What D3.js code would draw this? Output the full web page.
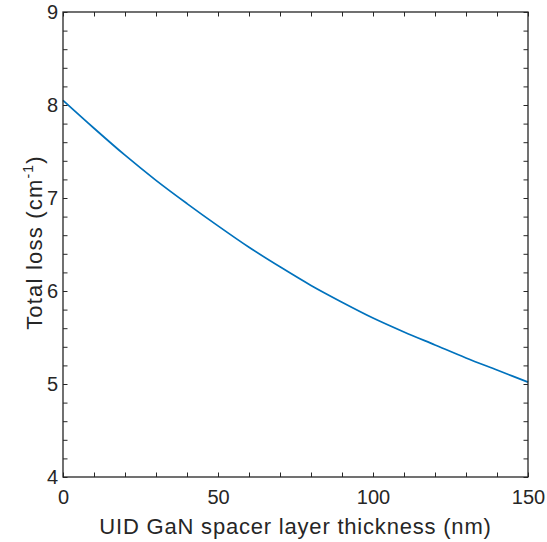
<!DOCTYPE html>
<html>
<head>
<meta charset="utf-8">
<script src="https://cdn.jsdelivr.net/npm/d3@7"></script>
<style>
  body { margin: 0; background: #fff; }
  text { font-family: Arial, "Liberation Sans", sans-serif; fill: #262626; }
</style>
</head>
<body>
<div id="plot"></div>
<script>
// spacer thickness (nm) and total loss (cm^-1)
const thickness = [0, 10, 20, 30, 40, 50, 60, 70, 80, 90, 100, 110, 120, 130, 140, 150];
const totalLoss = [8.05, 7.75, 7.46, 7.19, 6.94, 6.70, 6.47, 6.26, 6.06, 5.88, 5.71, 5.56, 5.42, 5.28, 5.15, 5.02];
const xTicks = [0, 50, 100, 150];
const yTicks = [4, 5, 6, 7, 8, 9];

const margin = { top: 12, right: 19, bottom: 65, left: 63 };
const width = 547 - margin.left - margin.right;
const height = 542 - margin.top - margin.bottom;

const svg = d3.select("#plot")
  .append("svg")
  .attr("width", 547)
  .attr("height", 542)
  .append("g")
  .attr("transform", `translate(${margin.left},${margin.top})`);

const xScale = d3.scaleLinear().domain([0, 150]).range([0, width]);
const yScale = d3.scaleLinear().domain([4, 9]).range([height, 0]);

const line = d3.line()
  .x((d, i) => xScale(thickness[i]))
  .y(d => yScale(d))
  .curve(d3.curveMonotoneX);

svg.append("path")
  .datum(totalLoss)
  .attr("fill", "none")
  .attr("stroke", "#0072BD")
  .attr("stroke-width", 1.7)
  .attr("d", line);

// inward ticks on all four sides, minor ticks included
const tickLen = 4.5;
const xMinor = d3.range(0, 151, 10);
const yMinor = d3.range(4, 9.001, 0.2);

const styleAxis = (g) => {
  g.select(".domain").remove();
  g.selectAll(".tick line").attr("stroke", "#262626").attr("stroke-width", 1);
  g.selectAll(".tick text").attr("font-size", 20).attr("fill", "#262626")
    .attr("font-family", "Arial, 'Liberation Sans', sans-serif");
};

svg.append("g")
  .attr("transform", `translate(0,${height})`)
  .call(d3.axisBottom(xScale).tickValues(xMinor).tickSize(-tickLen).tickFormat(""))
  .call(styleAxis);
svg.append("g")
  .call(d3.axisTop(xScale).tickValues(xMinor).tickSize(-tickLen).tickFormat(""))
  .call(styleAxis);
svg.append("g")
  .call(d3.axisLeft(yScale).tickValues(yMinor).tickSize(-tickLen).tickFormat(""))
  .call(styleAxis);
svg.append("g")
  .attr("transform", `translate(${width},0)`)
  .call(d3.axisRight(yScale).tickValues(yMinor).tickSize(-tickLen).tickFormat(""))
  .call(styleAxis);

// tick labels
svg.append("g")
  .attr("transform", `translate(0,${height})`)
  .call(d3.axisBottom(xScale).tickValues(xTicks).tickSize(0).tickPadding(13).tickFormat(d3.format("d")))
  .call(styleAxis);
svg.append("g")
  .call(d3.axisLeft(yScale).tickValues(yTicks).tickSize(0).tickPadding(5).tickFormat(d3.format("d")))
  .call(styleAxis);

// frame
svg.append("rect")
  .attr("width", width)
  .attr("height", height)
  .attr("fill", "none")
  .attr("stroke", "#262626")
  .attr("stroke-width", 1.3);

svg.append("text")
  .attr("x", width / 2)
  .attr("y", height + 57)
  .attr("text-anchor", "middle")
  .attr("font-size", 22)
  .attr("letter-spacing", 0.8)
  .text("UID GaN spacer layer thickness (nm)");

const yLabel = svg.append("text")
  .attr("transform", `translate(-21,${height / 2 - 2}) rotate(-90)`)
  .attr("text-anchor", "middle")
  .attr("font-size", 22)
  .attr("letter-spacing", 1.2);
yLabel.append("tspan").text("Total loss (cm");
yLabel.append("tspan").attr("font-size", 14).attr("dy", -9).text("-1");
yLabel.append("tspan").attr("dy", 9).text(")");
</script>
</body>
</html>
